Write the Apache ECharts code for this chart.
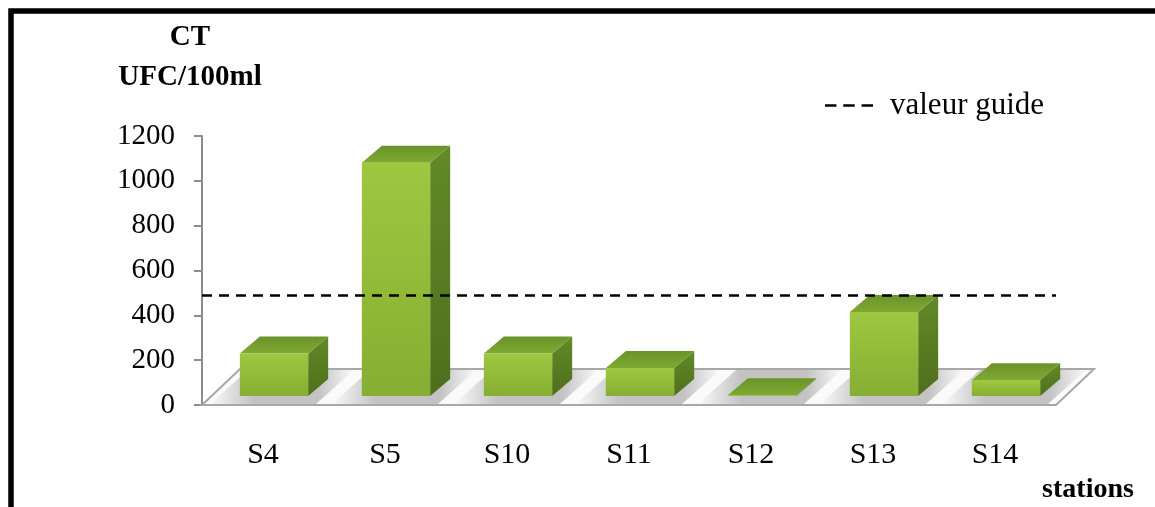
<!DOCTYPE html>
<html>
<head>
<meta charset="utf-8">
<script src="https://cdn.jsdelivr.net/npm/echarts@6/dist/echarts.min.js"></script>
<style>
  html, body { margin: 0; padding: 0; background: #fff; }
  #chart { width: 1155px; height: 507px; }
</style>
</head>
<body>
<div id="chart"></div>
<script>
  // stations + CT counts (UFC/100ml)
  const STATIONS = ["S4", "S5", "S10", "S11", "S12", "S13", "S14"];
  const CT_VALUES = [190, 1040, 190, 125, 3, 375, 70];
  const GUIDE_VALUE = 490;
  const Y_TICKS = { min: 0, max: 1200, interval: 200 };

  // 3D look (pixels) - Excel style floor + boxes
  const FLOOR_DX = 38, FLOOR_DY = -36;   // floor depth
  const BAR_OFF_X = 11, BAR_OFF_Y = -9;  // box front face sits mid-depth
  const BAR_DX = 20, BAR_DY = -17;       // box depth
  const BAR_HALF = 0.28;                 // half width as part of the band

  const SERIF = "Liberation Serif";

  function renderFloor(params, api) {
    const band = api.size([1, 0])[0];
    const first = api.coord([0, 0]);
    const last = api.coord([STATIONS.length - 1, 0]);
    const xl = first[0] - band / 2, xr = last[0] + band / 2, y = first[1];

    const children = [{
      type: "polygon",
      shape: { points: [[xl, y], [xr, y], [xr + FLOOR_DX, y + FLOOR_DY], [xl + FLOOR_DX, y + FLOOR_DY]] },
      style: { fill: "#fafafa", stroke: "#a8a8a8", lineWidth: 2 }
    }];

    // soft shadows round each box foot
    STATIONS.forEach((s, i) => {
      const c = api.coord([i, 0]);
      const a = c[0] - band / 2 + 8, b = c[0] + band / 2 - 8;
      children.push({
        type: "polygon",
        shape: { points: [[a, y - 1], [b, y - 1], [b + FLOOR_DX, y + FLOOR_DY + 1], [a + FLOOR_DX, y + FLOOR_DY + 1]] },
        style: {
          fill: {
            type: "linear", x: a, y: 0, x2: b + FLOOR_DX, y2: 0, global: true,
            colorStops: [
              { offset: 0, color: "rgba(150,150,150,0)" },
              { offset: 0.3, color: "rgba(150,150,150,0.55)" },
              { offset: 0.75, color: "rgba(150,150,150,0.55)" },
              { offset: 1, color: "rgba(150,150,150,0)" }
            ]
          }
        }
      });
    });
    return { type: "group", children };
  }

  function renderBox(params, api) {
    const idx = api.value(0);
    const v = api.value(1);
    const base = api.coord([idx, 0]);
    const top = api.coord([idx, v]);
    const hw = api.size([1, 0])[0] * BAR_HALF;

    const x0 = base[0] + BAR_OFF_X - hw;
    const x1 = base[0] + BAR_OFF_X + hw;
    const yb = base[1] + BAR_OFF_Y;
    const yt = top[1] + BAR_OFF_Y;

    return {
      type: "group",
      children: [
        {
          type: "polygon",
          shape: { points: [[x1, yt], [x1 + BAR_DX, yt + BAR_DY], [x1 + BAR_DX, yb + BAR_DY], [x1, yb]] },
          style: {
            fill: {
              type: "linear", x: 0, y: 0, x2: 0, y2: 1,
              colorStops: [{ offset: 0, color: "#628a26" }, { offset: 1, color: "#4e6f1d" }]
            }
          }
        },
        {
          type: "polygon",
          shape: { points: [[x0, yt], [x1, yt], [x1 + BAR_DX, yt + BAR_DY], [x0 + BAR_DX, yt + BAR_DY]] },
          style: {
            fill: {
              type: "linear", x: 0, y: 1, x2: 0, y2: 0,
              colorStops: [{ offset: 0, color: "#7fa932" }, { offset: 1, color: "#6a932a" }]
            }
          }
        },
        {
          type: "rect",
          shape: { x: x0, y: yt, width: x1 - x0, height: Math.max(0, yb - yt) },
          style: {
            fill: {
              type: "linear", x: 0, y: 0, x2: 0, y2: 1,
              colorStops: [{ offset: 0, color: "#9ec840" }, { offset: 1, color: "#86ae33" }]
            }
          }
        }
      ]
    };
  }

  const chart = echarts.init(document.getElementById("chart"), null, { renderer: "canvas" });

  chart.setOption({
    animation: false,
    backgroundColor: "#fff",
    grid: { left: 202, right: 99, top: 136, bottom: 102, containLabel: false },
    legend: {
      data: ["valeur guide"],
      left: 820,
      top: 85,
      icon: "path://M0,0H10V2H0Z M16,0H26V2H16Z M32,0H42V2H32Z",
      itemWidth: 48,
      itemHeight: 3,
      textStyle: { color: "#000", fontSize: 31, fontFamily: SERIF, padding: [0, 0, 0, 12] }
    },
    graphic: [
      {
        type: "rect", silent: true, z: 100,
        shape: { x: 11, y: 11, width: 1300, height: 700 },
        style: { fill: "none", stroke: "#000", lineWidth: 5.5 }
      },
      {
        type: "text", x: 190, y: 38, z: 100,
        style: {
          text: "CT", fontSize: 29, fontWeight: "bold", fontFamily: SERIF,
          fill: "#000", align: "center", verticalAlign: "middle"
        }
      },
      {
        type: "text", x: 190, y: 78, z: 100,
        style: {
          text: "UFC/100ml", fontSize: 29, fontWeight: "bold", fontFamily: SERIF,
          fill: "#000", align: "center", verticalAlign: "middle"
        }
      },
      {
        type: "text", x: 1088, y: 490, z: 100,
        style: {
          text: "stations", fontSize: 28, fontWeight: "bold", fontFamily: SERIF,
          fill: "#000", align: "center", verticalAlign: "middle"
        }
      }
    ],
    xAxis: {
      type: "category",
      data: STATIONS,
      axisLine: { show: false },
      axisTick: { show: false },
      splitLine: { show: false },
      axisLabel: { color: "#000", fontSize: 30, fontFamily: SERIF, margin: 35 }
    },
    yAxis: {
      type: "value",
      min: Y_TICKS.min,
      max: Y_TICKS.max,
      interval: Y_TICKS.interval,
      axisLine: { show: true, lineStyle: { color: "#8c8c8c", width: 2 } },
      axisTick: { show: true, length: 8, lineStyle: { color: "#8c8c8c", width: 2 } },
      splitLine: { show: false },
      axisLabel: {
        color: "#000", fontSize: 29, fontFamily: SERIF, margin: 27,
        formatter: (v) => String(v)
      }
    },
    series: [
      {
        name: "floor",
        type: "custom",
        silent: true,
        z: 1,
        renderItem: renderFloor,
        data: [[0, 0]]
      },
      {
        name: "CT",
        type: "custom",
        z: 2,
        renderItem: renderBox,
        encode: { x: 0, y: 1 },
        data: STATIONS.map((s, i) => [i, CT_VALUES[i]])
      },
      {
        name: "valeur guide",
        type: "line",
        z: 5,
        color: "#000",
        data: [],
        markLine: {
          silent: true,
          symbol: "none",
          label: { show: false },
          lineStyle: { color: "#000", type: [10, 7], width: 2.5 },
          data: [{ yAxis: GUIDE_VALUE }]
        }
      }
    ]
  });
</script>
</body>
</html>
